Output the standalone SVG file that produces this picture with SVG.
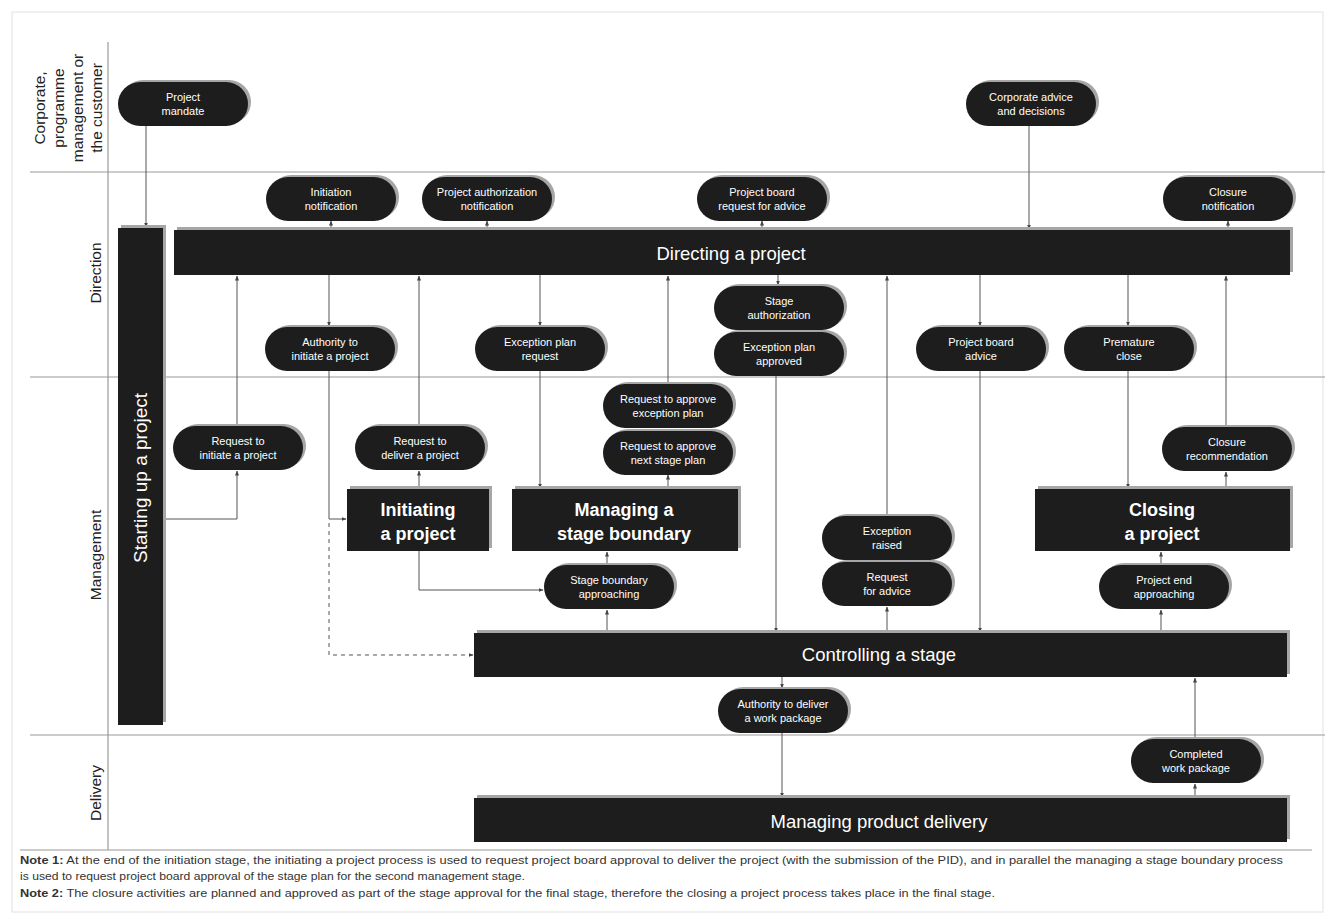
<svg xmlns="http://www.w3.org/2000/svg" width="1335" height="920" viewBox="0 0 1335 920">
<defs>
<marker id="ah" viewBox="0 0 10 10" refX="9" refY="5" markerWidth="5" markerHeight="5" orient="auto"><path d="M0,1 L10,5 L0,9 z" fill="#444"/></marker>
</defs>
<style>
.frame{fill:#fff;stroke:#e2e2e2;stroke-width:1}
.lane{stroke:#9a9a9a;stroke-width:1.2;fill:none}
.lbl{font-family:"Liberation Sans",Arial,sans-serif;font-size:15.5px;fill:#222;text-anchor:middle}
.bar{fill:#1d1d1d}
.bev{fill:#a6a6a6}
.pill{fill:#1d1d1d}
.pt{font-family:"Liberation Sans",Arial,sans-serif;font-size:11px;fill:#fff;text-anchor:middle}
.bt{font-family:"Liberation Sans",Arial,sans-serif;font-size:18.5px;fill:#fff;text-anchor:middle}
.boxt{font-family:"Liberation Sans",Arial,sans-serif;font-size:18px;font-weight:bold;fill:#fff;text-anchor:middle}
.cn{stroke:#555;stroke-width:1;fill:none;marker-end:url(#ah)}
.dash{stroke-dasharray:4,4}
.note{font-family:"Liberation Sans",Arial,sans-serif;font-size:10.5px;fill:#333}
</style>
<rect class="frame" x="12" y="12" width="1311" height="900"/>
<g id="lanes">
<line class="lane" x1="30" y1="172" x2="1325" y2="172"/>
<line class="lane" x1="30" y1="377" x2="1325" y2="377"/>
<line class="lane" x1="30" y1="735" x2="1325" y2="735"/>
<line class="lane" x1="20" y1="850" x2="1312" y2="850"/>
<line class="lane" x1="108" y1="42" x2="108" y2="850"/>
<text class="lbl" transform="translate(0,108) rotate(-90)"><tspan x="0" y="45">Corporate,</tspan><tspan x="0" y="64">programme</tspan><tspan x="0" y="83">management or</tspan><tspan x="0" y="102">the customer</tspan></text>
<text class="lbl" transform="translate(101,273) rotate(-90)" x="0" y="0">Direction</text>
<text class="lbl" transform="translate(101,555) rotate(-90)" x="0" y="0">Management</text>
<text class="lbl" transform="translate(101,793) rotate(-90)" x="0" y="0">Delivery</text>
</g>
<g id="connectors">
<path class="cn" d="M146,126 V227"/>
<path class="cn" d="M331,230 V221"/>
<path class="cn" d="M487,230 V221"/>
<path class="cn" d="M762,230 V221"/>
<path class="cn" d="M1228,230 V221"/>
<path class="cn" d="M1029,126 V229"/>
<path class="cn" d="M163,519 H237 V471"/>
<path class="cn" d="M237,426 V276"/>
<path class="cn" d="M329,275 V326"/>
<path class="cn" d="M329,370 V519 H346"/>
<path class="cn dash" d="M329,523 V655 H473"/>
<path class="cn" d="M419,489 V471"/>
<path class="cn" d="M419,426 V276"/>
<path class="cn" d="M419,551 V590 H543"/>
<path class="cn" d="M540,275 V326"/>
<path class="cn" d="M540,371 V488"/>
<path class="cn" d="M668,489 V475"/>
<path class="cn" d="M668,384 V276"/>
<path class="cn" d="M778,275 V285"/>
<path class="cn" d="M776,376 V632"/>
<path class="cn" d="M887,633 V607"/>
<path class="cn" d="M887,516 V276"/>
<path class="cn" d="M980,275 V326"/>
<path class="cn" d="M980,371 V632"/>
<path class="cn" d="M1128,275 V326"/>
<path class="cn" d="M1128,371 V488"/>
<path class="cn" d="M1226,489 V472"/>
<path class="cn" d="M1226,427 V276"/>
<path class="cn" d="M1161,633 V610"/>
<path class="cn" d="M1161,565 V552"/>
<path class="cn" d="M607,633 V610"/>
<path class="cn" d="M607,565 V552"/>
<path class="cn" d="M782,677 V688"/>
<path class="cn" d="M782,733 V797"/>
<path class="cn" d="M1195,798 V784"/>
<path class="cn" d="M1195,739 V678"/>
</g>
<g id="starting-up">
<rect class="bev" x="121" y="225" width="45" height="497"/>
<rect class="bar" x="118" y="228" width="45" height="497"/>
<text class="bt" style="font-size:19px" transform="translate(147,478) rotate(-90)" x="0" y="0">Starting up a project</text>
</g>
<g id="directing">
<rect class="bev" x="177" y="227" width="1116" height="45"/>
<rect class="bar" x="174" y="230" width="1116" height="45"/>
<text class="bt" x="731" y="260">Directing a project</text>
</g>
<g id="initiating">
<rect class="bev" x="350" y="486" width="142" height="62"/>
<rect class="bar" x="347" y="489" width="142" height="62"/>
<text class="boxt" x="418" y="516">Initiating</text>
<text class="boxt" x="418" y="540">a project</text>
</g>
<g id="stage-boundary">
<rect class="bev" x="515" y="486" width="226" height="62"/>
<rect class="bar" x="512" y="489" width="226" height="62"/>
<text class="boxt" x="624" y="516">Managing a</text>
<text class="boxt" x="624" y="540">stage boundary</text>
</g>
<g id="closing">
<rect class="bev" x="1038" y="486" width="255" height="62"/>
<rect class="bar" x="1035" y="489" width="255" height="62"/>
<text class="boxt" x="1162" y="516">Closing</text>
<text class="boxt" x="1162" y="540">a project</text>
</g>
<g id="controlling">
<rect class="bev" x="477" y="630" width="813" height="44"/>
<rect class="bar" x="474" y="633" width="813" height="44"/>
<text class="bt" x="879" y="661">Controlling a stage</text>
</g>
<g id="product-delivery">
<rect class="bev" x="477" y="795" width="813" height="44"/>
<rect class="bar" x="474" y="798" width="813" height="44"/>
<text class="bt" x="879" y="828">Managing product delivery</text>
</g>
<g id="project-mandate"><rect class="bev" x="121" y="80" width="130" height="44" rx="22"/><rect class="pill" x="118" y="82" width="130" height="44" rx="22"/><text class="pt" x="183" y="100.5">Project</text><text class="pt" x="183" y="115">mandate</text></g>
<g id="corporate-advice"><rect class="bev" x="969" y="80" width="130" height="44" rx="22"/><rect class="pill" x="966" y="82" width="130" height="44" rx="22"/><text class="pt" x="1031" y="100.5">Corporate advice</text><text class="pt" x="1031" y="115">and decisions</text></g>
<g id="initiation-notification"><rect class="bev" x="269" y="175" width="130" height="44" rx="22"/><rect class="pill" x="266" y="177" width="130" height="44" rx="22"/><text class="pt" x="331" y="195.5">Initiation</text><text class="pt" x="331" y="210">notification</text></g>
<g id="project-authorization-notification"><rect class="bev" x="425" y="175" width="130" height="44" rx="22"/><rect class="pill" x="422" y="177" width="130" height="44" rx="22"/><text class="pt" x="487" y="195.5">Project authorization</text><text class="pt" x="487" y="210">notification</text></g>
<g id="pb-request-advice"><rect class="bev" x="700" y="175" width="130" height="44" rx="22"/><rect class="pill" x="697" y="177" width="130" height="44" rx="22"/><text class="pt" x="762" y="195.5">Project board</text><text class="pt" x="762" y="210">request for advice</text></g>
<g id="closure-notification"><rect class="bev" x="1166" y="175" width="130" height="44" rx="22"/><rect class="pill" x="1163" y="177" width="130" height="44" rx="22"/><text class="pt" x="1228" y="195.5">Closure</text><text class="pt" x="1228" y="210">notification</text></g>
<g id="exception-plan-approved"><rect class="bev" x="717" y="330" width="130" height="44" rx="22"/><rect class="pill" x="714" y="332" width="130" height="44" rx="22"/><text class="pt" x="779" y="350.5">Exception plan</text><text class="pt" x="779" y="365">approved</text></g>
<g id="stage-authorization"><rect class="bev" x="717" y="284" width="130" height="44" rx="22"/><rect class="pill" x="714" y="286" width="130" height="44" rx="22"/><text class="pt" x="779" y="304.5">Stage</text><text class="pt" x="779" y="319">authorization</text></g>
<g id="authority-initiate"><rect class="bev" x="268" y="325" width="130" height="44" rx="22"/><rect class="pill" x="265" y="327" width="130" height="44" rx="22"/><text class="pt" x="330" y="345.5">Authority to</text><text class="pt" x="330" y="360">initiate a project</text></g>
<g id="exception-plan-request"><rect class="bev" x="478" y="325" width="130" height="44" rx="22"/><rect class="pill" x="475" y="327" width="130" height="44" rx="22"/><text class="pt" x="540" y="345.5">Exception plan</text><text class="pt" x="540" y="360">request</text></g>
<g id="pb-advice"><rect class="bev" x="919" y="325" width="130" height="44" rx="22"/><rect class="pill" x="916" y="327" width="130" height="44" rx="22"/><text class="pt" x="981" y="345.5">Project board</text><text class="pt" x="981" y="360">advice</text></g>
<g id="premature-close"><rect class="bev" x="1067" y="325" width="130" height="44" rx="22"/><rect class="pill" x="1064" y="327" width="130" height="44" rx="22"/><text class="pt" x="1129" y="345.5">Premature</text><text class="pt" x="1129" y="360">close</text></g>
<g id="req-approve-next"><rect class="bev" x="606" y="429" width="130" height="44" rx="22"/><rect class="pill" x="603" y="431" width="130" height="44" rx="22"/><text class="pt" x="668" y="449.5">Request to approve</text><text class="pt" x="668" y="464">next stage plan</text></g>
<g id="req-approve-exception"><rect class="bev" x="606" y="382" width="130" height="44" rx="22"/><rect class="pill" x="603" y="384" width="130" height="44" rx="22"/><text class="pt" x="668" y="402.5">Request to approve</text><text class="pt" x="668" y="417">exception plan</text></g>
<g id="req-initiate"><rect class="bev" x="176" y="424" width="130" height="44" rx="22"/><rect class="pill" x="173" y="426" width="130" height="44" rx="22"/><text class="pt" x="238" y="444.5">Request to</text><text class="pt" x="238" y="459">initiate a project</text></g>
<g id="req-deliver"><rect class="bev" x="358" y="424" width="130" height="44" rx="22"/><rect class="pill" x="355" y="426" width="130" height="44" rx="22"/><text class="pt" x="420" y="444.5">Request to</text><text class="pt" x="420" y="459">deliver a project</text></g>
<g id="closure-recommendation"><rect class="bev" x="1165" y="425" width="130" height="44" rx="22"/><rect class="pill" x="1162" y="427" width="130" height="44" rx="22"/><text class="pt" x="1227" y="445.5">Closure</text><text class="pt" x="1227" y="460">recommendation</text></g>
<g id="stage-boundary-approaching"><rect class="bev" x="547" y="563" width="130" height="44" rx="22"/><rect class="pill" x="544" y="565" width="130" height="44" rx="22"/><text class="pt" x="609" y="583.5">Stage boundary</text><text class="pt" x="609" y="598">approaching</text></g>
<g id="request-advice"><rect class="bev" x="825" y="560" width="130" height="44" rx="22"/><rect class="pill" x="822" y="562" width="130" height="44" rx="22"/><text class="pt" x="887" y="580.5">Request</text><text class="pt" x="887" y="595">for advice</text></g>
<g id="exception-raised"><rect class="bev" x="825" y="514" width="130" height="44" rx="22"/><rect class="pill" x="822" y="516" width="130" height="44" rx="22"/><text class="pt" x="887" y="534.5">Exception</text><text class="pt" x="887" y="549">raised</text></g>
<g id="project-end-approaching"><rect class="bev" x="1102" y="563" width="130" height="44" rx="22"/><rect class="pill" x="1099" y="565" width="130" height="44" rx="22"/><text class="pt" x="1164" y="583.5">Project end</text><text class="pt" x="1164" y="598">approaching</text></g>
<g id="authority-deliver-wp"><rect class="bev" x="721" y="687" width="130" height="44" rx="22"/><rect class="pill" x="718" y="689" width="130" height="44" rx="22"/><text class="pt" x="783" y="707.5">Authority to deliver</text><text class="pt" x="783" y="722">a work package</text></g>
<g id="completed-wp"><rect class="bev" x="1134" y="737" width="130" height="44" rx="22"/><rect class="pill" x="1131" y="739" width="130" height="44" rx="22"/><text class="pt" x="1196" y="757.5">Completed</text><text class="pt" x="1196" y="772">work package</text></g>
<g id="notes">
<text class="note" x="20" y="864" textLength="1263" lengthAdjust="spacingAndGlyphs"><tspan font-weight="bold">Note 1:</tspan> At the end of the initiation stage, the initiating a project process is used to request project board approval to deliver the project (with the submission of the PID), and in parallel the managing a stage boundary process</text>
<text class="note" x="20" y="880" textLength="505" lengthAdjust="spacingAndGlyphs">is used to request project board approval of the stage plan for the second management stage.</text>
<text class="note" x="20" y="897" textLength="975" lengthAdjust="spacingAndGlyphs"><tspan font-weight="bold">Note 2:</tspan> The closure activities are planned and approved as part of the stage approval for the final stage, therefore the closing a project process takes place in the final stage.</text>
</g>
</svg>
